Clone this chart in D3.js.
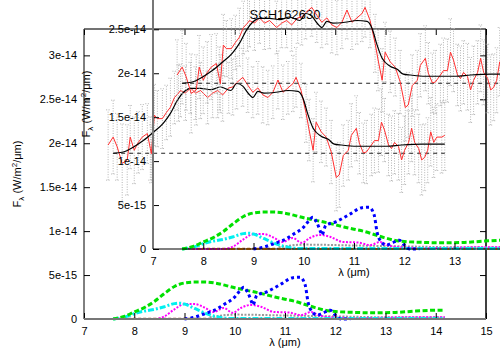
<!DOCTYPE html>
<html><head><meta charset="utf-8">
<script src="https://cdn.jsdelivr.net/npm/d3@7"></script>
<style>body{margin:0;background:#fff}svg{display:block}</style>
</head><body><svg id="c" width="500" height="350"></svg>
<script>
// ---- data (flux in units of 1e-14 W/m2/um) ----
const specLambda = [7.48,7.58,7.66,7.76,7.86,7.92,8.00,8.08,8.16,8.26,8.32,8.34,8.40,8.46,8.56,8.64,8.72,8.80,8.88,8.92,9.02,9.12,9.22,9.32,9.46,9.56,9.66,9.76,9.88,9.96,10.04,10.16,10.26,10.36,10.46,10.56,10.66,10.76,10.86,10.96,11.06,11.16,11.22,11.32,11.42,11.48,11.56,11.62,11.72,11.82,11.92,12.02,12.08,12.16,12.26,12.32,12.42,12.48,12.56,12.62,12.72,12.78,12.86,12.92,12.98,13.06,13.12,13.18,13.26,13.32,13.38,13.46,13.52,13.58,13.66,13.72,13.78,13.84,13.90,13.96,14.02,14.12,14.18];
const specFlux = [1.98,2.07,1.96,1.77,1.81,2.07,1.92,2.01,2.07,2.11,1.94,1.88,2.32,2.28,2.28,2.35,2.41,2.52,2.57,2.60,2.57,2.63,2.57,2.60,2.52,2.57,2.60,2.55,2.63,2.64,2.69,2.75,2.66,2.58,2.63,2.55,2.52,2.58,2.72,2.58,2.63,2.68,2.75,2.60,2.34,2.15,1.92,2.24,2.13,2.07,1.90,1.61,1.64,1.86,1.92,2.09,2.17,2.00,1.89,1.90,1.98,2.03,2.03,2.24,2.15,1.98,1.94,2.01,1.96,1.81,1.92,2.01,2.17,2.01,1.94,1.81,1.84,1.92,2.13,2.01,2.07,2.07,2.09];
const specErr = [0.40,0.42,0.38,0.45,0.40,0.36,0.38,0.35,0.37,0.34,0.36,0.33,0.35,0.32,0.34,0.31,0.33,0.30,0.32,0.30,0.31,0.29,0.30,0.32,0.30,0.28,0.31,0.30,0.29,0.32,0.30,0.33,0.31,0.29,0.30,0.32,0.31,0.30,0.33,0.31,0.30,0.32,0.34,0.31,0.33,0.35,0.36,0.34,0.35,0.33,0.36,0.38,0.37,0.35,0.34,0.36,0.37,0.35,0.34,0.36,0.35,0.37,0.36,0.38,0.36,0.35,0.37,0.36,0.38,0.37,0.39,0.36,0.38,0.37,0.39,0.40,0.38,0.37,0.39,0.40,0.38,0.41,0.40];
const fitLambda = [7.58,7.78,7.98,8.18,8.38,8.58,8.72,8.86,8.98,9.12,9.32,9.52,9.72,9.92,10.04,10.16,10.28,10.36,10.46,10.58,10.82,11.06,11.26,11.36,11.46,11.56,11.72,11.86,11.98,12.12,12.42,12.72,13.02,13.32,13.72,14.18];
const fitFlux = [1.886,1.90,1.955,2.03,2.125,2.23,2.34,2.49,2.58,2.625,2.625,2.61,2.64,2.60,2.68,2.65,2.56,2.52,2.59,2.57,2.58,2.60,2.59,2.51,2.32,2.17,2.08,2.045,1.99,1.98,1.966,1.966,1.966,1.98,1.99,1.99];
const contLambda = [7.58,14.18];
const contFlux = [1.886,1.886];
const greenLambda = [7.58,7.8,8.0,8.2,8.4,8.6,8.8,9.0,9.2,9.4,9.6,9.8,10.0,10.2,10.4,10.6,10.8,11.0,11.2,11.4,11.6,11.8,12.0,12.4,12.8,13.2,13.6,14.0,14.18];
const greenFlux = [0,0.03,0.08,0.13,0.20,0.29,0.37,0.41,0.42,0.42,0.41,0.385,0.355,0.33,0.307,0.28,0.25,0.225,0.2,0.165,0.13,0.10,0.085,0.075,0.07,0.075,0.09,0.10,0.10];
const cyanLambda = [7.58,7.8,8.0,8.2,8.4,8.6,8.8,8.9,9.0,9.2,9.4,9.6,9.8,10.0,11.0,12.0,13.0,14.18];
const cyanFlux = [0,0.02,0.06,0.09,0.11,0.14,0.175,0.18,0.17,0.12,0.07,0.03,0.01,0.005,0.005,0.005,0.005,0.005];
const magentaLambda = [7.58,8.4,8.6,8.8,9.0,9.2,9.4,9.58,9.78,9.96,10.12,10.32,10.52,10.78,11.06,11.32,11.52,11.66,11.92,12.5,13.0,13.5,14.18];
const magentaFlux = [0,0,0.03,0.11,0.17,0.17,0.13,0.08,0.125,0.07,0.125,0.16,0.14,0.08,0.075,0.045,0.08,0.045,0.02,0.01,0.015,0.02,0.02];
const blueLambda = [9.0,9.2,9.4,9.6,9.8,10.0,10.1,10.18,10.26,10.32,10.36,10.44,10.64,10.9,11.16,11.3,11.4,11.46,11.54,11.64,11.76,11.9,12.0,12.1,12.3];
const blueFlux = [0,0.02,0.06,0.10,0.17,0.25,0.32,0.36,0.30,0.22,0.16,0.27,0.31,0.39,0.47,0.475,0.39,0.19,0.08,0.045,0.07,0.10,0.045,0,0];
const grayLambda = [9.5,10.0,11.0,12.0,13.0,14.18];
const grayFlux = [0.02,0.05,0.04,0.03,0.02,0.02];
const baseLambda = [7.58,14.18];
const baseFlux = [0.004,0.004];
const xTicks = [7,8,9,10,11,12,13,14,15];
const yTicks = [0,0.5,1,1.5,2,2.5,3];
const yTickLabels = ["0","5e-15","1e-14","1.5e-14","2e-14","2.5e-14","3e-14"];
const title = "SCH162630";

// ---- drawing ----
const W=500, H=350;
const svg = d3.select("#c");
svg.append("rect").attr("width",W).attr("height",H).attr("fill","#fff");
const FONT = "'Liberation Sans', Arial, sans-serif";
const L=84, R=486, T=29, B=319;
const x = d3.scaleLinear().domain([7,15]).range([L,R]);
const y = d3.scaleLinear().domain([0,3.3]).range([B,T]);

function series(lams, vals){ return lams.map((l,i)=>[l, vals[i]]); }
const line = d3.line().x(d=>x(d[0])).y(d=>y(d[1]));
const smooth = d3.line().x(d=>x(d[0])).y(d=>y(d[1])).curve(d3.curveMonotoneX);

function drawPlot(g, outer, dx, dy){
  // error bars
  const eb = g.append("g").attr("stroke","#b4b4b4").attr("stroke-width",1).attr("stroke-dasharray","1,1.5").attr("fill","none");
  specLambda.forEach((l,i)=>{
    const xi = x(l), y0=y(specFlux[i]-specErr[i]), y1=y(specFlux[i]+specErr[i]);
    eb.append("line").attr("x1",xi).attr("x2",xi).attr("y1",y0).attr("y2",y1);
    eb.append("line").attr("x1",xi-2).attr("x2",xi+2).attr("y1",y0).attr("y2",y0);
    eb.append("line").attr("x1",xi-2).attr("x2",xi+2).attr("y1",y1).attr("y2",y1);
  });
  // continuum dashed
  g.append("path").datum(series(contLambda,contFlux)).attr("d",line)
    .attr("fill","none").attr("stroke","#222").attr("stroke-width",1.2).attr("stroke-dasharray","4,4");
  // spectrum
  g.append("path").datum(series(specLambda,specFlux)).attr("d",line)
    .attr("fill","none").attr("stroke","#ff3030").attr("stroke-width",1);
  // fit
  g.append("path").datum(series(fitLambda,fitFlux)).attr("d",smooth)
    .attr("fill","none").attr("stroke","#000").attr("stroke-width",1.2);
  // components
  const comps = [
    [baseLambda,baseFlux,"#a0522d",2,"3,2"],
    [baseLambda,[0,0],"#ff8c00",2,"5,3"],
    [grayLambda,grayFlux,"#999",2,"2,1.5"],
    [magentaLambda,magentaFlux,"#ff00ff",2,"2,1.5"],
    [cyanLambda,cyanFlux,"#00f0f0",3,"6,2,2,2"],
    [greenLambda,greenFlux,"#00e000",3,"5,2.5"],
    [blueLambda,blueFlux,"#0000ff",3,"3,3"]
  ];
  comps.forEach(c=>{
    g.append("path").datum(series(c[0],c[1])).attr("d",smooth)
      .attr("fill","none").attr("stroke",c[2]).attr("stroke-width",c[3]).attr("stroke-dasharray",c[4]);
  });
  // axes
  const ax = (gen, tr, fmt)=>{
    const a = g.append("g").attr("transform",tr).call(gen.tickSizeOuter(0).tickFormat(fmt));
    a.select(".domain").remove();
    a.selectAll("text").attr("font-family",FONT).attr("font-size",11).attr("fill","#000");
    a.selectAll(".tick line").attr("stroke","#000");
    return a;
  };
  const yVisible = v => { const p = y(v)+dy; return p > 6 && p < H-6; };
  const xVisible = v => { const p = x(v)+dx; return p > 6 && p < W-8; };
  ax(d3.axisLeft(y).tickValues(yTicks).tickSize(-6).tickPadding(7), `translate(${L},0)`, (d,i)=>yVisible(d)?yTickLabels[i]:"");
  ax(d3.axisRight(y).tickValues(yTicks).tickSize(-6), `translate(${R},0)`, ()=>"");
  ax(d3.axisBottom(x).tickValues(xTicks).tickSize(-6).tickPadding(8), `translate(0,${B})`, d=>xVisible(d)?d3.format("d")(d):"");
  ax(d3.axisTop(x).tickValues(xTicks).tickSize(-6), `translate(0,${T})`, ()=>"");
  // frame
  const fr = (x1,y1,x2,y2,col,w)=>g.append("line").attr("x1",x1).attr("y1",y1).attr("x2",x2).attr("y2",y2).attr("stroke",col).attr("stroke-width",w);
  if(outer){
    fr(L,T,L,B,"#000",1); fr(L,T,R,T,"#444",1.5); fr(R,T,R,B,"#000",1.5); fr(L,B,R,B,"#777",2);
  } else {
    fr(L,T,L,B,"#777",2); fr(L,T,R,T,"#000",1); fr(R,T,R,B,"#000",1); fr(L,B,R,B,"#000",1.2);
  }
  // labels
  g.append("text").attr("x",(L+R)/2).attr("y",B+27).attr("text-anchor","middle")
    .attr("font-family",FONT).attr("font-size",11).text("λ (μm)");
  const yl = g.append("text").attr("transform",`translate(${L-63},${(T+B)/2}) rotate(-90)`)
    .attr("text-anchor","middle").attr("font-family",FONT).attr("font-size",11);
  yl.append("tspan").text("F");
  yl.append("tspan").attr("font-size",8).attr("dy",3).text("λ");
  yl.append("tspan").attr("dy",-3).text(" (W/m");
  yl.append("tspan").attr("font-size",8).attr("dy",-4).text("2");
  yl.append("tspan").attr("dy",4).text("/μm)");
  if(outer){
    g.append("text").attr("x",(L+R)/2).attr("y",T-10).attr("text-anchor","middle")
      .attr("font-family",FONT).attr("font-size",13).text(title);
  }
}

drawPlot(svg.append("g"), true, 0, 0);
drawPlot(svg.append("g").attr("transform","translate(69,-70)"), false, 69, -70);
</script></body></html>
